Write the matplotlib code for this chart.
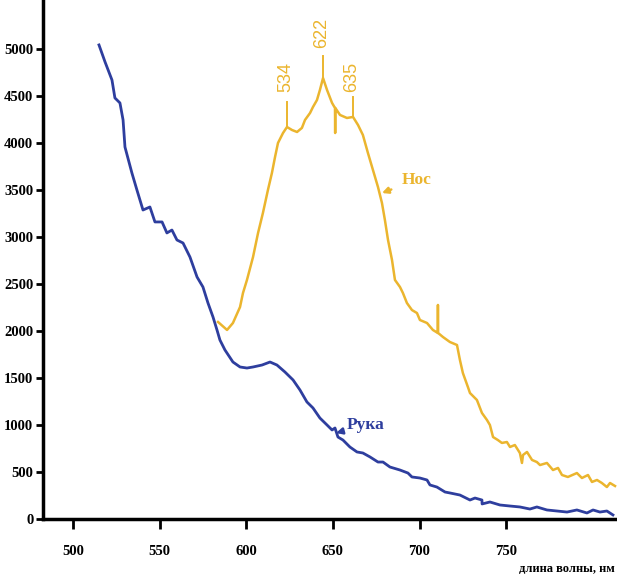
# Emission spectra: hand (Рука) vs nose (Нос)
import matplotlib.pyplot as plt

# --- Data ------------------------------------------------------------------
# Рука (hand), blue
hand_wl = [515.0, 518.5, 522.5, 524.2, 527.1, 528.9, 530.0, 534.0, 536.9, 540.4,
           544.4, 547.3, 551.4, 554.2, 557.1, 560.0, 563.5, 567.5, 571.6, 575.0,
           577.9, 580.8, 583.1, 584.8, 587.7, 592.3, 596.4, 600.4, 603.9, 609.1,
           613.7, 617.7, 622.3, 627.0, 631.0, 635.0, 638.5, 642.5, 646.6, 649.5,
           651.2, 652.9, 655.8, 659.8, 663.9, 667.3, 671.4, 676.0, 678.9, 682.9,
           688.7, 693.3, 695.6, 700.2, 704.3, 706.0, 710.0, 714.7, 717.5, 723.3,
           729.1, 732.0, 736.0, 736.1, 740.6, 746.4, 752.2, 757.9, 763.7, 767.7,
           773.5, 779.3, 785.1, 790.8, 796.6, 800.1, 804.1, 808.1, 811.6]
hand_val = [5043, 4862, 4670, 4479, 4426, 4245, 3957, 3681, 3500, 3287,
            3319, 3160, 3160, 3043, 3074, 2968, 2936, 2787, 2574, 2468,
            2298, 2149, 2011, 1904, 1798, 1670, 1617, 1606, 1617, 1638,
            1670, 1638, 1564, 1479, 1372, 1245, 1181, 1074, 1000, 947,
            968, 872, 840, 766, 713, 702, 660, 606, 606, 553,
            521, 489, 447, 436, 415, 362, 340, 287, 277, 255,
            202, 223, 202, 160, 181, 149, 138, 128, 106, 128,
            96, 85, 74, 96, 64, 96, 74, 85, 43]

# Нос (nose), yellow
nose_wl = [583.7, 588.9, 592.3, 596.4, 598.1, 600.4, 603.9, 606.8, 609.6, 612.5,
           614.8, 616.6, 618.3, 621.2, 623.5, 626.4, 629.3, 632.1, 633.9, 636.8,
           638.5, 640.8, 642.5, 644.3, 646.6, 649.5, 651.2, 651.3, 651.4, 654.1,
           658.1, 661.6, 664.5, 667.3, 670.2, 673.1, 676.0, 678.3, 680.0, 681.8,
           684.1, 685.8, 688.7, 690.4, 692.7, 695.6, 698.5, 700.2, 704.3, 707.7,
           710.5, 710.6, 710.7, 713.5, 717.5, 721.6, 723.3, 725.0, 727.9, 729.1,
           733.1, 736.0, 738.9, 740.6, 742.4, 745.2, 747.5, 750.4, 752.2, 755.0,
           757.9, 759.1, 759.7, 762.0, 764.9, 767.7, 769.5, 773.5, 777.0, 779.9,
           782.2, 785.6, 790.8, 793.7, 797.2, 799.5, 802.4, 805.2, 808.1, 809.9,
           812.8]
nose_val = [2096, 2011, 2085, 2255, 2404, 2543, 2787, 3043, 3255, 3500,
            3681, 3851, 4000, 4106, 4170, 4138, 4117, 4160, 4245, 4319,
            4383, 4457, 4564, 4691, 4564, 4426, 4372, 4106, 4372, 4298,
            4266, 4277, 4191, 4085, 3894, 3713, 3532, 3362, 3181, 2968,
            2755, 2543, 2468, 2404, 2298, 2223, 2191, 2117, 2085, 2011,
            1979, 2277, 1979, 1936, 1883, 1851, 1691, 1553, 1404, 1340,
            1266, 1128, 1053, 1000, 872, 840, 809, 819, 766, 787,
            702, 596, 681, 713, 628, 606, 574, 596, 521, 543,
            468, 447, 489, 436, 468, 394, 415, 383, 340, 383,
            351]

# peak marks: label, position, curve value, top of the mark
peak_labels = ['534', '622', '635']
peak_wl = [623.5, 644.3, 661.6]
peak_base = [4170, 4691, 4277]
peak_top = [4436, 4926, 4489]
peak_text_y = [4702, 5170, 4702]

x_ticks = [500, 550, 600, 650, 700, 750]
y_ticks = [0, 500, 1000, 1500, 2000, 2500, 3000, 3500, 4000, 4500, 5000]

blue = '#2E3E9E'
yellow = '#EBB52E'

# --- Plot -------------------------------------------------------------------
fig = plt.figure(figsize=(6.17, 5.75), dpi=100)
ax = fig.add_axes([0.0697, 0.0974, 0.9271, 0.9026])

ax.plot(hand_wl, hand_val, color=blue, lw=2.0, clip_on=False)
ax.plot(nose_wl, nose_val, color=yellow, lw=1.8, clip_on=False)

for lab, x, y0, y1, ty in zip(peak_labels, peak_wl, peak_base, peak_top, peak_text_y):
    ax.plot([x, x], [y0, y1], color=yellow, lw=1.4)
    ax.text(x - 0.8, ty, lab, rotation=90, ha='center', va='center',
            color=yellow, fontsize=13, family='Liberation Sans', clip_on=False)

ax.annotate('Нос', xy=(678.3, 3468), xytext=(689.8, 3606), color=yellow,
            fontsize=12.5, fontweight='bold', family='Liberation Serif',
            va='center', ha='left',
            arrowprops=dict(arrowstyle='-|>', color=yellow, lw=1.8,
                            mutation_scale=9, shrinkA=6, shrinkB=0))
ax.annotate('Рука', xy=(651.8, 915), xytext=(658.1, 1000), color=blue,
            fontsize=12.5, fontweight='bold', family='Liberation Serif',
            va='center', ha='left',
            arrowprops=dict(arrowstyle='-|>', color=blue, lw=1.8,
                            mutation_scale=9, shrinkA=3, shrinkB=0))

ax.set_xlim(482.7, 812.8)
ax.set_ylim(0, 5521)
ax.set_xticks(x_ticks)
ax.set_yticks(y_ticks)
for s in ['top', 'right']:
    ax.spines[s].set_visible(False)
for s in ['left', 'bottom']:
    ax.spines[s].set_linewidth(2.5)
ax.tick_params(axis='x', length=7, width=2, pad=12)
ax.tick_params(axis='y', length=5, width=2, pad=2)
for lbl in ax.get_xticklabels() + ax.get_yticklabels():
    lbl.set_family('Liberation Serif')
    lbl.set_fontweight('bold')
    lbl.set_fontsize(10.5)

fig.text(615 / 617, 1 - 569 / 575, 'длина волны, нм', ha='right', va='center',
         fontsize=9, fontweight='bold', family='Liberation Serif')

fig.savefig('out.png', dpi=100)
